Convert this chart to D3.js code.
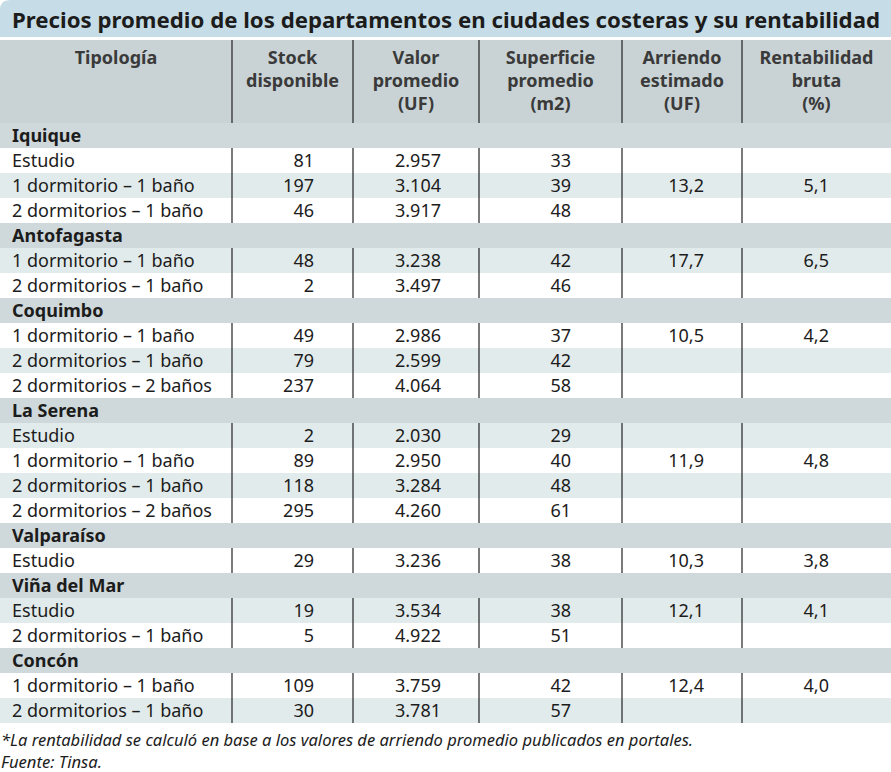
<!DOCTYPE html>
<html>
<head>
<meta charset="utf-8">
<script src="https://cdn.jsdelivr.net/npm/d3@7"></script>
<style>
body { margin: 0; background: #fff; }
svg { display: block; }
</style>
</head>
<body>
<div id="chart-area"></div>
<script>
// Table data, one entry per data row
var cities = ["Iquique", "Antofagasta", "Coquimbo", "La Serena", "Valparaíso", "Viña del Mar", "Concón"];
var rowCity = [0, 0, 0, 1, 1, 2, 2, 2, 3, 3, 3, 3, 4, 5, 5, 6, 6];
var tipologia = [
	"Estudio", "1 dormitorio – 1 baño", "2 dormitorios – 1 baño",
	"1 dormitorio – 1 baño", "2 dormitorios – 1 baño",
	"1 dormitorio – 1 baño", "2 dormitorios – 1 baño", "2 dormitorios – 2 baños",
	"Estudio", "1 dormitorio – 1 baño", "2 dormitorios – 1 baño", "2 dormitorios – 2 baños",
	"Estudio",
	"Estudio", "2 dormitorios – 1 baño",
	"1 dormitorio – 1 baño", "2 dormitorios – 1 baño"
];
var stock = [81, 197, 46, 48, 2, 49, 79, 237, 2, 89, 118, 295, 29, 19, 5, 109, 30];
var valor = [2957, 3104, 3917, 3238, 3497, 2986, 2599, 4064, 2030, 2950, 3284, 4260, 3236, 3534, 4922, 3759, 3781];
var superficie = [33, 39, 48, 42, 46, 37, 42, 58, 29, 40, 48, 61, 38, 38, 51, 42, 57];
var arriendo = [null, 13.2, null, 17.7, null, 10.5, null, null, null, 11.9, null, null, 10.3, 12.1, null, 12.4, null];
var rentabilidad = [null, 5.1, null, 6.5, null, 4.2, null, null, null, 4.8, null, null, 3.8, 4.1, null, 4.0, null];

var headers = [
	["Tipología"],
	["Stock", "disponible"],
	["Valor", "promedio", "(UF)"],
	["Superficie", "promedio", "(m2)"],
	["Arriendo", "estimado", "(UF)"],
	["Rentabilidad", "bruta", "(%)"]
];

var title = "Precios promedio de los departamentos en ciudades costeras y su rentabilidad";
var notes = ["*La rentabilidad se calculó en base a los valores de arriendo promedio publicados en portales.", "Fuente: Tinsa."];

// stripe of each data row (1 = light band)
var rowShade = [0, 1, 0, 1, 0, 0, 1, 0, 1, 0, 1, 0, 0, 1, 0, 0, 1];

// Layout
var w = 891, h = 772;
var colEdges = [0, 232, 353, 479, 622, 742, 891];
var tableTop = 123, tableBottom = 723;
var headTop = 40;

var es = d3.formatLocale({decimal: ",", thousands: ".", grouping: [3], currency: ["$", ""]});
var fInt = es.format(",d");
var fDec = es.format(",.1f");

// flat row list: group rows + data rows
var rows = [];
cities.forEach(function(c, ci) {
	rows.push({type: "group", label: c});
	rowCity.forEach(function(rc, i) {
		if (rc == ci) rows.push({type: "data", i: i});
	});
});

var y = d3.scaleBand()
	.domain(d3.range(rows.length))
	.range([tableTop, tableBottom]);

var x = d3.scaleOrdinal()
	.domain(d3.range(colEdges.length))
	.range(colEdges);

var svg = d3.select("#chart-area").append("svg")
	.attr("width", w)
	.attr("height", h);

var font = "'Noto Sans', 'Open Sans', sans-serif";

// title band with rounded top-left corner
svg.append("path")
	.attr("d", "M0,10 Q0,0 10,0 L" + w + ",0 L" + w + ",37 L0,37 Z")
	.attr("fill", "#c6dce6");

svg.append("text")
	.attr("x", 12)
	.attr("y", 28)
	.attr("font-family", font)
	.attr("font-weight", "bold")
	.attr("font-size", 22)
	.attr("fill", "#1c1c1c")
	.attr("textLength", 868)
	.attr("lengthAdjust", "spacingAndGlyphs")
	.text(title);

// header
svg.append("rect")
	.attr("x", 0).attr("y", headTop)
	.attr("width", w).attr("height", tableTop - headTop)
	.attr("fill", "#c9d3d5");

headers.forEach(function(lines, c) {
	var cx = (x(c) + x(c + 1)) / 2;
	lines.forEach(function(t, k) {
		svg.append("text")
			.attr("x", cx)
			.attr("y", 64 + k * 23)
			.attr("text-anchor", "middle")
			.attr("font-family", font)
			.attr("font-weight", "bold")
			.attr("font-size", 18)
			.attr("fill", "#3a3a3a")
			.text(t);
	});
});

for (var c = 1; c < colEdges.length - 1; c++) {
	svg.append("line")
		.attr("x1", x(c)).attr("x2", x(c))
		.attr("y1", headTop).attr("y2", tableTop)
		.attr("stroke", "#222").attr("stroke-width", 1.2);
}

// body rows
var row = svg.selectAll("g.row")
	.data(rows)
	.enter().append("g")
	.attr("class", "row")
	.attr("transform", function(d, i) { return "translate(0," + y(i) + ")"; });

row.append("rect")
	.attr("width", w)
	.attr("height", y.bandwidth())
	.attr("fill", function(d) {
		if (d.type == "group") return "#cfd8da";
		return rowShade[d.i] ? "#e2ebeb" : "#ffffff";
	});

var ty = y.bandwidth() / 2 + 6.5;

row.filter(function(d) { return d.type == "group"; })
	.append("text")
	.attr("x", 12)
	.attr("y", ty)
	.attr("font-family", font)
	.attr("font-weight", "bold")
	.attr("font-size", 18)
	.attr("fill", "#1c1c1c")
	.text(function(d) { return d.label; });

var dataRows = row.filter(function(d) { return d.type == "data"; });

for (var c = 1; c < colEdges.length - 1; c++) {
	dataRows.append("line")
		.attr("x1", x(c)).attr("x2", x(c))
		.attr("y1", 0).attr("y2", y.bandwidth())
		.attr("stroke", "#222").attr("stroke-width", 1.2);
}

// [value getter, anchor x, anchor]
var cells = [
	[function(i) { return tipologia[i]; }, 12, "start"],
	[function(i) { return fInt(stock[i]); }, 314, "end"],
	[function(i) { return fInt(valor[i]); }, 441, "end"],
	[function(i) { return fInt(superficie[i]); }, 571, "end"],
	[function(i) { return arriendo[i] == null ? "" : fDec(arriendo[i]); }, 704, "end"],
	[function(i) { return rentabilidad[i] == null ? "" : fDec(rentabilidad[i]); }, 829, "end"]
];

cells.forEach(function(cell) {
	dataRows.append("text")
		.attr("x", cell[1])
		.attr("y", ty)
		.attr("text-anchor", cell[2])
		.attr("font-family", font)
		.attr("font-size", 18)
		.attr("fill", "#1c1c1c")
		.text(function(d) { return cell[0](d.i); });
});

// notes
var noteWidths = [692, 101];
notes.forEach(function(t, k) {
	svg.append("text")
		.attr("x", 1)
		.attr("y", 746 + k * 22)
		.attr("font-family", "'Liberation Sans Narrow', 'Noto Sans', sans-serif")
		.attr("font-style", "italic")
		.attr("font-size", 16)
		.attr("fill", "#1c1c1c")
		.attr("textLength", noteWidths[k])
		.attr("lengthAdjust", "spacingAndGlyphs")
		.text(t);
});
</script>
</body>
</html>
